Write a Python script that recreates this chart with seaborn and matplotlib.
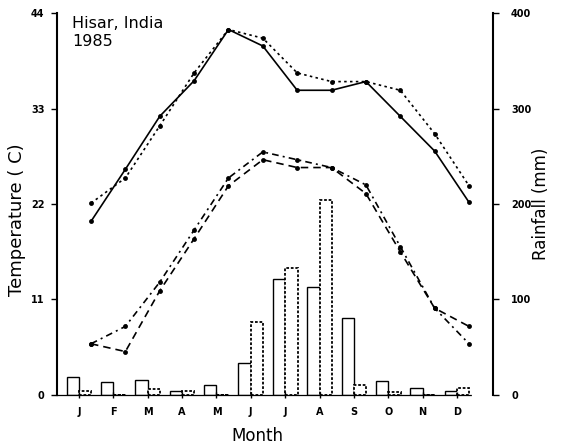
import matplotlib
matplotlib.use("Agg")
import matplotlib.pyplot as plt
import numpy as np
import pandas as pd
import seaborn as sns

# ---- data ----
month_labels = ['J', 'F', 'M', 'A', 'M', 'J', 'J', 'A', 'S', 'O', 'N', 'D']
month_num = list(range(1, 13))

tmax_solid = [20.0, 26.0, 32.1, 36.2, 42.1, 40.2, 35.1, 35.1, 36.1, 32.1, 28.1, 22.2]
tmax_dotted = [22.1, 25.0, 31.0, 37.1, 42.1, 41.1, 37.1, 36.1, 36.1, 35.1, 30.1, 24.1]
tmin_dashdot = [5.9, 7.9, 13.0, 19.0, 25.0, 28.0, 27.1, 26.2, 24.2, 17.1, 10.0, 5.9]
tmin_dashed = [5.9, 5.0, 12.0, 18.0, 24.1, 27.1, 26.2, 26.2, 23.2, 16.5, 10.0, 7.9]

rain_normal = [19, 14, 16, 4, 10, 33, 121, 113, 81, 15, 7, 4.5]
rain_1985 = [4, 0, 6, 4, 0, 76, 133, 204, 10, 3.5, 0, 7.6]

temp_ticks = [0, 11, 22, 33, 44]
rain_ticks = [0, 100, 200, 300, 400]

sns.set_style("ticks")
plt.rcParams['font.family'] = ['DejaVu Sans']
plt.rcParams['text.color'] = 'black'
plt.rcParams['axes.labelcolor'] = 'black'
plt.rcParams['xtick.color'] = 'black'
plt.rcParams['ytick.color'] = 'black'

fig = plt.figure(figsize=(5.7, 4.44), dpi=100)
ax = fig.add_axes([0.1, 0.1104, 0.765, 0.8603])
ax2 = ax.twinx()

# ---- rainfall bars ----
rain_df = pd.DataFrame({
    'month': month_num * 2,
    'rain': rain_normal + rain_1985,
    'series': ['normal'] * 12 + ['1985'] * 12,
})
sns.barplot(data=rain_df, x='month', y='rain', hue='series', native_scale=True,
            width=0.72, dodge=True, palette=['white', 'white'], saturation=1,
            edgecolor='black', linewidth=1.0, errorbar=None, legend=False, ax=ax2)
if len(ax2.containers) > 1:
    for p in ax2.containers[1]:
        p.set_linestyle((0, (1.5, 1)))
        p.set_linewidth(1.3)

# ---- temperature lines ----
offset = 0.35
xs = [m + offset for m in month_num]
common = dict(color='black', marker='o', markersize=3.5, markeredgewidth=0, linewidth=1.2, ax=ax)
sns.lineplot(x=xs, y=tmax_solid, linestyle='-', **common)
sns.lineplot(x=xs, y=tmax_dotted, linestyle=(0, (1.5, 2.0)), **common)
sns.lineplot(x=xs, y=tmin_dashdot, linestyle=(0, (4, 2.5, 1.2, 2.5)), **common)
sns.lineplot(x=xs, y=tmin_dashed, linestyle=(0, (4.5, 3)), **common)

ax.set_zorder(ax2.get_zorder() + 1)
ax.patch.set_visible(False)

ax.set_xlim(0.36, 13.05)
ax.set_ylim(0, 44)
ax2.set_ylim(0, 400)

ax.set_xticks(month_num)
ax.set_xticklabels(month_labels, fontsize=7, fontweight='bold')
ax.set_yticks(temp_ticks)
ax.set_yticklabels([str(t) for t in temp_ticks], fontsize=7, fontweight='bold')
ax2.set_yticks(rain_ticks)
ax2.set_yticklabels([str(t) for t in rain_ticks], fontsize=7, fontweight='bold')

for s in ['top', 'right']:
    ax.spines[s].set_visible(False)
for s in ['top', 'left', 'bottom']:
    ax2.spines[s].set_visible(False)
ax.spines['left'].set_linewidth(1.5)
ax.spines['left'].set_color('black')
ax2.spines['right'].set_linewidth(1.5)
ax2.spines['right'].set_color('black')
ax.spines['bottom'].set_linewidth(0.9)
ax.spines['bottom'].set_color('black')
ax.spines['bottom'].set_linestyle((0, (3, 1)))
ax.spines['bottom'].set_bounds(0.36, 12.45)

ax.tick_params(axis='y', direction='out', length=4, width=1, pad=5, colors='black')
ax.tick_params(axis='x', direction='inout', length=5, width=1, pad=6, colors='black')
ax2.tick_params(axis='y', direction='out', length=4, width=1, pad=9, colors='black')

ax.set_xlabel('Month', fontsize=12)
ax.xaxis.set_label_coords(0.46, -0.085)
ax.set_ylabel('Temperature ( C)', fontsize=13)
ax.yaxis.set_label_coords(-0.072, 0.46)
ax2.set_ylabel('Rainfall (mm)', fontsize=12)
ax2.yaxis.set_label_coords(1.09, 0.5)

ax.text(0.035, 0.993, 'Hisar, India\n1985', transform=ax.transAxes, ha='left', va='top',
        fontsize=11.5, linespacing=1.3, color='black')

fig.savefig('out.png', dpi=100)
